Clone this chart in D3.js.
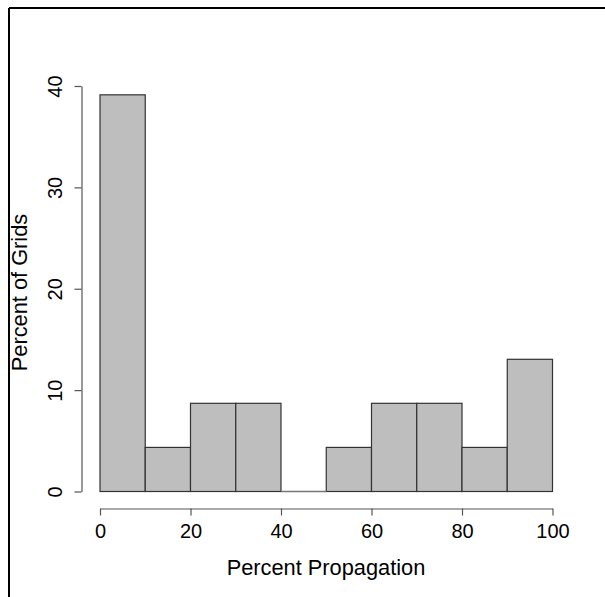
<!DOCTYPE html>
<html>
<head>
<meta charset="utf-8">
<script src="https://cdn.jsdelivr.net/npm/d3@7"></script>
<style>
  html, body { margin: 0; padding: 0; background: #fff; }
  svg { display: block; }
  text { font-family: "Liberation Sans", Arial, sans-serif; fill: #000; }
</style>
</head>
<body>
<svg id="chart" width="605" height="597"></svg>
<script>
// Histogram bins (percent propagation) and percent of grids
const binStarts = [0, 10, 20, 30, 40, 50, 60, 70, 80, 90];
const binWidth = 10;
const percentOfGrids = [39.13, 4.35, 8.70, 8.70, 0, 4.35, 8.70, 8.70, 4.35, 13.04];
const xTicks = [0, 20, 40, 60, 80, 100];
const yTicks = [0, 10, 20, 30, 40];
const xTitle = "Percent Propagation";
const yTitle = "Percent of Grids";

const svg = d3.select("#chart");

// frame (top and left edges visible)
svg.append("line").attr("x1", 9).attr("x2", 605).attr("y1", 8).attr("y2", 8)
  .attr("stroke", "#000").attr("stroke-width", 2);
svg.append("line").attr("x1", 9).attr("x2", 9).attr("y1", 8).attr("y2", 597)
  .attr("stroke", "#000").attr("stroke-width", 2);

const x = d3.scaleLinear().domain([0, 100]).range([100, 552.5]);
const y = d3.scaleLinear().domain([0, 40]).range([491.5, 86]);

const bins = binStarts.map((s, i) => ({ s, v: percentOfGrids[i] }));

// bars
svg.append("g").selectAll("rect")
  .data(bins.filter(d => d.v > 0))
  .join("rect")
  .attr("x", d => x(d.s))
  .attr("width", d => x(d.s + binWidth) - x(d.s))
  .attr("y", d => y(d.v))
  .attr("height", d => y(0) - y(d.v))
  .attr("fill", "#bebebe")
  .attr("stroke", "#333")
  .attr("stroke-width", 1.2);

// zero-height bins drawn as a flat line
svg.append("g").selectAll("line")
  .data(bins.filter(d => d.v === 0))
  .join("line")
  .attr("x1", d => x(d.s)).attr("x2", d => x(d.s + binWidth))
  .attr("y1", y(0)).attr("y2", y(0))
  .attr("stroke", "#777").attr("stroke-width", 1.6);

// x axis
const gx = svg.append("g").attr("transform", "translate(0,508.5)")
  .call(d3.axisBottom(x).tickValues(xTicks).tickSize(7).tickPadding(8).tickSizeOuter(0));
gx.select(".domain").attr("stroke", "#555").attr("stroke-width", 1.2);
gx.selectAll(".tick line").attr("stroke", "#555").attr("stroke-width", 1.2);
gx.selectAll(".tick text").style("font-size", "20px").attr("fill", "#000");

// y axis
const gy = svg.append("g").attr("transform", "translate(81.5,0)")
  .call(d3.axisLeft(y).tickValues(yTicks).tickSize(7).tickSizeOuter(0));
gy.select(".domain").attr("stroke", "#555").attr("stroke-width", 1.2);
gy.selectAll(".tick line").attr("stroke", "#555").attr("stroke-width", 1.2);
gy.selectAll(".tick text")
  .style("font-size", "20px").attr("fill", "#000")
  .attr("x", 0).attr("dy", 0)
  .attr("text-anchor", "middle")
  .attr("transform", "translate(-20,0) rotate(-90)");

// titles
svg.append("text").attr("x", 326).attr("y", 575)
  .attr("text-anchor", "middle").style("font-size", "21.8px").text(xTitle);
svg.append("text")
  .attr("transform", "translate(27,292.5) rotate(-90)")
  .attr("text-anchor", "middle").style("font-size", "21.8px").text(yTitle);
</script>
</body>
</html>
